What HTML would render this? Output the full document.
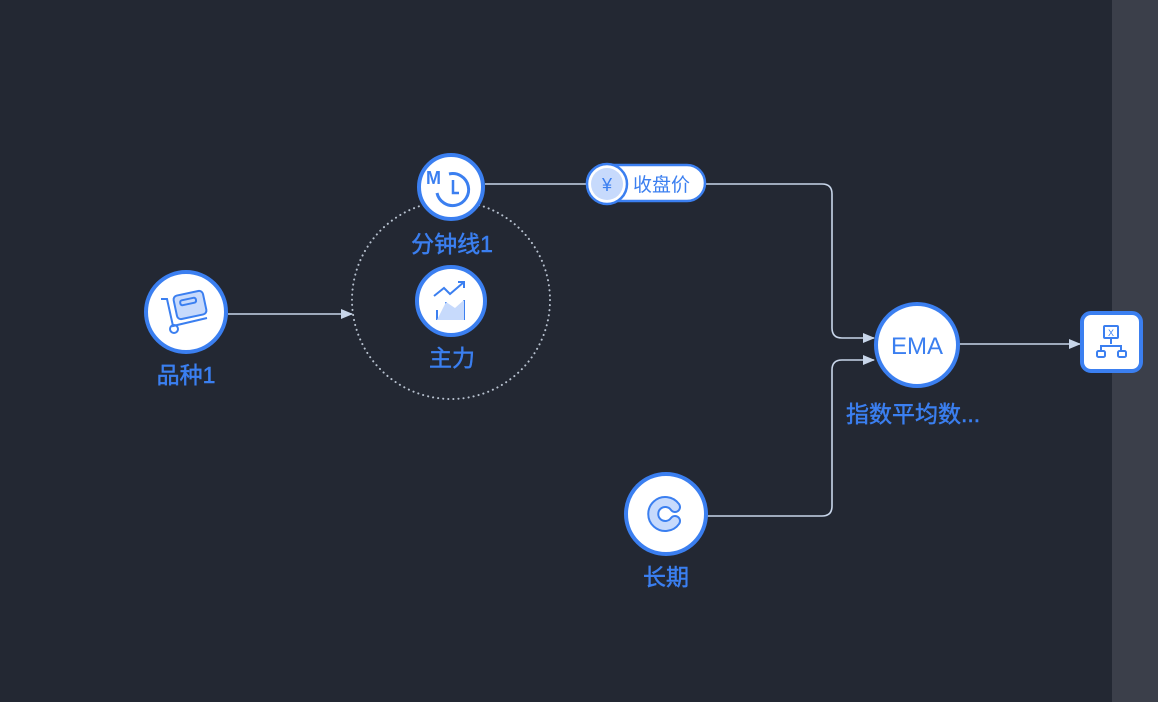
<!DOCTYPE html>
<html><head><meta charset="utf-8"><style>
html,body{margin:0;padding:0;background:#232833;}
svg{display:block}
text{font-family:"Liberation Sans","Noto Sans CJK SC",sans-serif;fill:#3b7ff0;}
.l{font-size:23px;stroke:#3b7ff0;stroke-width:0.5px}
</style></head><body>
<svg width="1158" height="702" viewBox="0 0 1158 702" xmlns="http://www.w3.org/2000/svg">
<rect width="1158" height="702" fill="#232833"/>
<rect x="1112" y="0" width="46" height="702" fill="#3b3f4a"/>
<defs><marker id="a" markerWidth="12" markerHeight="12" refX="11" refY="6" orient="auto" markerUnits="userSpaceOnUse"><path d="M0,1 L12,6 L0,11Z" fill="#c8d6ea"/></marker></defs>
<g fill="none" stroke="#c8d6ea" stroke-width="1.6">
<path d="M228,314 H352" marker-end="url(#a)"/>
<path d="M485,184 H590"/>
<path d="M704,184 H822 Q832,184 832,194 V328 Q832,338 842,338 H874" marker-end="url(#a)"/>
<path d="M706,516 H822 Q832,516 832,506 V370 Q832,360 842,360 H874" marker-end="url(#a)"/>
<path d="M959,344 H1080" marker-end="url(#a)"/>
</g>
<circle cx="451" cy="300" r="99" fill="none" stroke="#b8c2d0" stroke-width="2" stroke-dasharray="0.1 5" stroke-linecap="round"/>
<g stroke="#3b7ff0" stroke-width="4" fill="#fff">
<circle cx="186" cy="312" r="40"/>
<circle cx="451" cy="187" r="32"/>
<circle cx="451" cy="301" r="34"/>
<circle cx="917" cy="345" r="41"/>
<circle cx="666" cy="514" r="40"/>
<rect x="1082" y="313" width="59" height="58" rx="9"/>
</g>
<rect x="587" y="165" width="118" height="36" rx="18" fill="#fff" stroke="#3b7ff0" stroke-width="2.5"/>
<circle cx="607" cy="184" r="20" fill="#fff" stroke="#3b7ff0" stroke-width="2.5"/>
<circle cx="607" cy="184" r="16" fill="#c7dafc"/>
<text x="607" y="191" font-size="18" text-anchor="middle">¥</text>
<text x="633" y="191" font-size="19">收盘价</text>
<g fill="none" stroke="#3b7ff0" stroke-width="2">
<path d="M161,299 l6,0 l6,27 l34,-8"/><circle cx="174" cy="329" r="4"/>
<rect x="175" y="293" width="30" height="24" rx="4" transform="rotate(-12 190 305)" fill="#c7dafc"/>
<rect x="180" y="299" width="16" height="5" rx="2" transform="rotate(-12 188 301)"/>
<path d="M437,193 a16,16 0 1 0 12,-19" stroke-width="3"/><path d="M453,180 v13 h6" stroke-width="2.5"/>
<path d="M434,296 l10,-8 l6,6 l14,-12 M458,282 h6 v6"/>
<path d="M437,320 v-10 M446,320 v-18 M455,320 v-12 M464,320 v-20"/>
<rect x="1104" y="326" width="14" height="12" rx="1"/><path d="M1111,338 v6 M1101,351 v-5 h20 v5"/>
<rect x="1097" y="351" width="8" height="6" rx="1.5"/><rect x="1118" y="351" width="8" height="6" rx="1.5"/>
</g>
<path d="M675,507 A12,12 0 1 0 675,521" fill="none" stroke="#3b7ff0" stroke-width="12" stroke-linecap="round"/>
<path d="M675,507 A12,12 0 1 0 675,521" fill="none" stroke="#c7dafc" stroke-width="8" stroke-linecap="round"/>
<path d="M437,320 L446,302 L455,308 L464,300 V320Z" fill="#c7dafc"/>
<text x="426" y="184" font-size="18" font-family="Liberation Serif" font-weight="bold">M</text>
<text x="1111" y="336" font-size="9" text-anchor="middle">X</text>
<text x="917" y="354" font-size="24" text-anchor="middle">EMA</text>
<text class="l" x="186" y="383" text-anchor="middle">品种1</text>
<text class="l" x="452" y="252" text-anchor="middle">分钟线1</text>
<text class="l" x="452" y="366" text-anchor="middle">主力</text>
<text class="l" x="846" y="422">指数平均数...</text>
<text class="l" x="666" y="585" text-anchor="middle">长期</text>
</svg>
</body></html>
